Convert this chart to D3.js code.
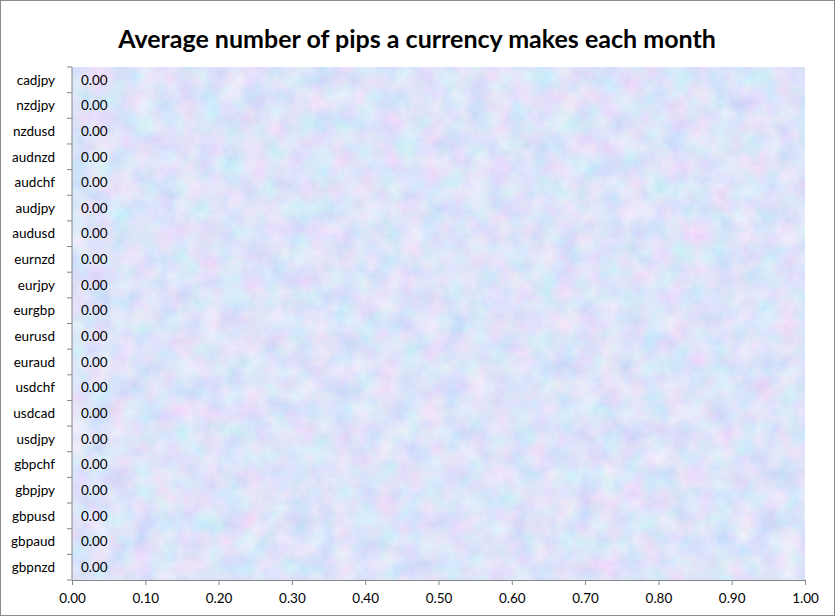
<!DOCTYPE html>
<html><head><meta charset="utf-8">
<script src="https://cdn.jsdelivr.net/npm/d3@7"></script>
<style>html,body{margin:0;padding:0;background:#fff;}svg{display:block;}</style>
</head><body>
<script>
const categories = ["cadjpy","nzdjpy","nzdusd","audnzd","audchf","audjpy","audusd","eurnzd","eurjpy","eurgbp","eurusd","euraud","usdchf","usdcad","usdjpy","gbpchf","gbpjpy","gbpusd","gbpaud","gbpnzd"];
const values = [0,0,0,0,0,0,0,0,0,0,0,0,0,0,0,0,0,0,0,0];
const xTicks = [0,0.1,0.2,0.3,0.4,0.5,0.6,0.7,0.8,0.9,1.0];
const title = "Average number of pips a currency makes each month";

const W = 835, H = 616;
const m = {left:72, right:30, top:67, bottom:36};
const svg = d3.select("body").append("svg").attr("width", W).attr("height", H);
const font = "Lato, 'Open Sans', sans-serif";

svg.append("rect").attr("x",0.5).attr("y",0.5).attr("width",W-1).attr("height",H-1)
  .attr("fill","#fff").attr("stroke","#8c8c8c");

const x = d3.scaleLinear().domain([0,1]).range([m.left, 805]);
const y = d3.scaleBand().domain(categories).range([m.top, 580]).paddingInner(0.35).paddingOuter(0.175);

const defs = svg.append("defs");
const f = defs.append("filter").attr("id","tex").attr("filterUnits","userSpaceOnUse")
  .attr("x",m.left).attr("y",m.top).attr("width",805-m.left).attr("height",580-m.top);
f.append("feTurbulence").attr("type","fractalNoise").attr("baseFrequency","0.045").attr("numOctaves",4).attr("seed",4).attr("result","n");
f.append("feColorMatrix").attr("in","n").attr("type","matrix")
  .attr("values","0.45 0 0 0 0.5  0 0.3 0 0 0.625  0 0 0.1 0 0.9  0 0 0 0 1");

svg.append("rect").attr("x",m.left).attr("y",m.top).attr("width",805-m.left).attr("height",580-m.top)
  .attr("fill","#c6d4f5").attr("filter","url(#tex)");

// bars (zero width)
svg.append("g").selectAll("rect").data(categories).join("rect")
  .attr("x", x(0)).attr("y", c=>y(c)).attr("height", y.bandwidth())
  .attr("width", (c,i)=>x(values[i])-x(0)).attr("fill","#4f81bd");

// value labels
svg.append("g").selectAll("text").data(categories).join("text")
  .attr("x", (c,i)=>x(values[i])+9).attr("y", c=>y(c)+y.bandwidth()/2)
  .attr("dy","0.35em").attr("font-family",font).attr("font-size",13.5).attr("fill","#000")
  .text((c,i)=>d3.format(".2f")(values[i]));

// y axis
const ya = svg.append("g");
ya.append("line").attr("x1",m.left).attr("x2",m.left).attr("y1",m.top).attr("y2",580).attr("stroke","#868686");
const bounds = d3.range(categories.length+1).map(i=>m.top + i*(580-m.top)/categories.length);
ya.selectAll("line.t").data(bounds).join("line").attr("class","t")
  .attr("x1",m.left-5).attr("x2",m.left).attr("y1",d=>d).attr("y2",d=>d).attr("stroke","#868686");
ya.selectAll("text").data(categories).join("text")
  .attr("x",m.left-17).attr("y",c=>y(c)+y.bandwidth()/2).attr("dy","0.35em")
  .attr("text-anchor","end").attr("font-family",font).attr("font-size",13.5).text(c=>c);

// x axis
const xa = svg.append("g").attr("transform","translate(0,580)")
  .call(d3.axisBottom(x).tickValues(xTicks).tickFormat(d3.format(".2f")).tickSize(5).tickSizeOuter(0));
xa.select(".domain").attr("stroke","#868686");
xa.selectAll(".tick line").attr("stroke","#868686");
xa.selectAll(".tick text").attr("font-family",font).attr("font-size",13.5).attr("fill","#000").attr("dy","1.1em");

svg.append("text").attr("x",417).attr("y",48).attr("text-anchor","middle")
  .attr("font-family",font).attr("font-weight","bold").attr("font-size",25).text(title);
</script>
</body></html>
